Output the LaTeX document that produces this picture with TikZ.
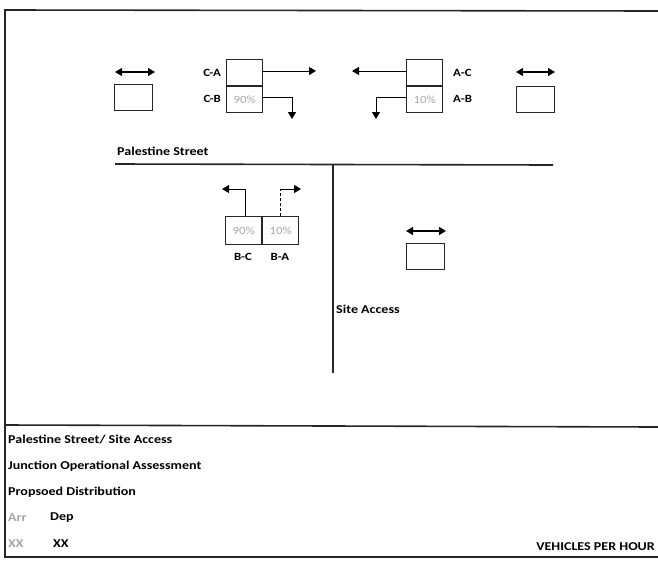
\documentclass[tikz,border=0pt]{standalone}
\usepackage{fontspec}
\setmainfont[FakeStretch=1.17]{Carlito}
\usetikzlibrary{arrows.meta}
\begin{document}
\begin{tikzpicture}[x=1pt,y=-1pt,
  frame/.style={line width=1.6pt,draw=black!85},
  road/.style={line width=1.6pt,draw=black!85},
  cell/.style={draw=black!85,line width=1.3pt,minimum width=36pt,minimum height=26pt,inner sep=0pt,font=\fontsize{11}{12}\selectfont,text=black!35},
  blank/.style={draw=black!85,line width=1.3pt,minimum width=38pt,minimum height=26pt,inner sep=0pt},
  lab/.style={font=\bfseries\fontsize{11}{12}\selectfont,inner sep=0pt},
  txt/.style={font=\bfseries\fontsize{12}{14}\selectfont,inner sep=0pt,anchor=west},
  flow/.style={line width=1pt,-{Triangle[width=8pt,length=7pt]}},
  both/.style={line width=1.4pt,{Triangle[width=8pt,length=7pt]}-{Triangle[width=8pt,length=7pt]}}
]
\useasboundingbox (0,0) rectangle (658,560);
% frame
\coordinate (tl) at (5,10);
\coordinate (tr) at (658,11);
\coordinate (bl) at (5,557);
\coordinate (br) at (658,557);
\coordinate (dl) at (5,425);
\coordinate (dr) at (658,427);
\draw[frame] (tr) -- (tl) -- (bl) -- (br);
\draw[frame] (dl) -- (dr);
% roads
\coordinate (rl) at (115,164);
\coordinate (rr) at (553,165);
\coordinate (rj) at (333,165);
\coordinate (rb) at (333,373);
\draw[road] (rl) -- (rr);
\draw[road] (rj) -- (rb);
\node[txt] (ps) at (117,151) {Palestine Street};
\node[txt] (sa) at (336,309) {Site Access};
% top-left blank
\node[blank,anchor=north west] (b1) at (114,84) {};
\coordinate (b1l) at (115,72); \coordinate (b1r) at (155,72);
\draw[both] (b1l) -- (b1r);
% C group
\node[cell,anchor=north west] (ca) at (226,59) {};
\node[cell,anchor=north west] (cb) at (226,86) {90\%};
\node[lab,anchor=east] (lca) at (221,73) {C-A};
\node[lab,anchor=east] (lcb) at (221,99) {C-B};
\coordinate (ca1) at (316,71);
\draw[flow] (ca.east |- ca1) -- (ca1);
\coordinate (cb1) at (292,97);
\coordinate (cb2) at (292,119);
\draw[flow] (cb.east |- cb1) -- (cb1) -- (cb2);
% A group
\node[cell,anchor=north west] (ac) at (406,59) {};
\node[cell,anchor=north west] (ab) at (406,86) {10\%};
\node[lab,anchor=west] (lac) at (453,73) {A-C};
\node[lab,anchor=west] (lab) at (453,99) {A-B};
\coordinate (ac1) at (352,71);
\draw[flow] (ac.west |- ac1) -- (ac1);
\coordinate (ab1) at (376,97);
\coordinate (ab2) at (376,119);
\draw[flow] (ab.west |- ab1) -- (ab1) -- (ab2);
% top-right blank
\node[blank,anchor=north west] (b2) at (516,86) {};
\coordinate (b2l) at (516,72); \coordinate (b2r) at (555,72);
\draw[both] (b2l) -- (b2r);
% B group
\node[cell,anchor=north west,minimum height=28pt] (bc) at (225,216) {90\%};
\node[cell,anchor=north west,minimum height=28pt] (ba) at (262,216) {10\%};
\node[lab] (lbc) at (243,257) {B-C};
\node[lab] (lba) at (280,257) {B-A};
\coordinate (bc1) at (245,189);
\coordinate (bc2) at (222,189);
\draw[flow] (bc.north -| bc1) -- (bc1) -- (bc2);
\coordinate (ba1) at (280,189);
\coordinate (ba2) at (301,189);
\draw[line width=1pt,densely dashed] (ba.north -| ba1) -- (ba1);
\draw[flow] (ba1) -- (ba2);
% site blank
\node[blank,anchor=north west] (b3) at (406,243) {};
\coordinate (b3l) at (406,231); \coordinate (b3r) at (446,231);
\draw[both] (b3l) -- (b3r);
% legend
\node[txt] (t1) at (8,440) {Palestine Street/ Site Access};
\node[txt] (t2) at (8,466) {Junction Operational Assessment};
\node[txt] (t3) at (8,492) {Propsoed Distribution};
\node[txt,text=black!35] (t4) at (8,518) {Arr};
\node[txt] (t5) at (50,518) {Dep};
\node[txt,text=black!35] (t6) at (8,544) {XX};
\node[txt] (t7) at (53,544) {XX};
\node[txt,anchor=east] (t8) at (655,547) {VEHICLES PER HOUR};
\end{tikzpicture}
\end{document}
